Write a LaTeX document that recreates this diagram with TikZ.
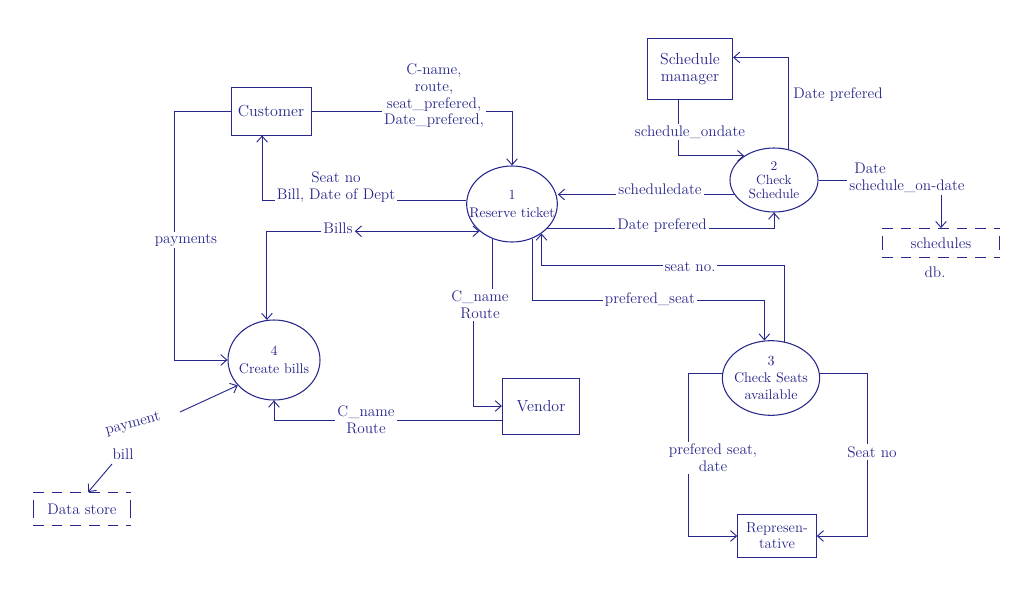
\documentclass[tikz,border=0pt]{standalone}
\usetikzlibrary{shapes.geometric,calc,arrows.meta}
\definecolor{ink}{RGB}{40,40,140}
\begin{document}
\begin{tikzpicture}[x=0.75pt,y=-0.75pt,
  >={Straight Barb[length=4.5pt,width=8pt]},
  every node/.style={text=ink},
  ent/.style={draw=ink, line width=0.7pt, align=center, inner sep=2pt, font=\fontsize{12}{13}\selectfont},
  proc/.style={ellipse, draw=ink, line width=0.8pt, inner sep=0pt},
  ptxt/.style={align=center, inner sep=0pt, font=\fontsize{10.5}{13}\selectfont},
  lab/.style={fill=white, align=center, inner sep=1.5pt, font=\fontsize{11.5}{12.5}\selectfont},
  flow/.style={draw=ink, line width=0.7pt, ->},
  dstxt/.style={inner sep=2pt, font=\fontsize{11.5}{12}\selectfont}
]
\useasboundingbox (0,0) rectangle (1024,604);
\fill[white] (0,0) rectangle (1024,604);

% external entities
\node[ent, minimum width=60pt, minimum height=36pt] (cust) at (271,111) {Customer};
\node[ent, minimum width=64pt, minimum height=46pt] (sm) at (690,69) {Schedule\\manager};
\node[ent, minimum width=58pt, minimum height=42pt] (ven) at (541,406) {Vendor};
\node[ent, minimum width=59pt, minimum height=32pt, font=\fontsize{11}{12}\selectfont] (rep) at (777,536) {Represen-\\tative};

% processes
\node[proc, minimum width=68pt, minimum height=57pt] (p1) at (512,204) {};
\node[ptxt] (p1t) at (p1.center) {1\\Reserve ticket};
\node[proc, minimum width=66pt, minimum height=48pt] (p2) at (774,180) {};
\node[ptxt, font=\fontsize{10}{10.5}\selectfont] (p2t) at (p2.center) {2\\Check\\Schedule};
\node[proc, minimum width=73pt, minimum height=56pt] (p3) at (771,378) {};
\node[ptxt, font=\fontsize{10.5}{12.5}\selectfont] (p3t) at (p3.center) {3\\Check Seats\\available};
\node[proc, minimum width=69pt, minimum height=60pt] (p4) at (274,360) {};
\node[ptxt] (p4t) at (p4.center) {4\\Create bills};

% data stores
\node[dstxt, minimum width=88pt, minimum height=22pt] (db) at (941,243) {schedules};
\node[dstxt] (dbl) at (935,272) {db.};
\node[dstxt, minimum width=73pt, minimum height=25pt] (ds) at (82,509) {Data store};
\foreach \s in {db,ds}{
  \draw[ink, line width=0.7pt, dash pattern=on 8pt off 6pt] (\s.north west) -- (\s.north east);
  \draw[ink, line width=0.7pt, dash pattern=on 8pt off 6pt] (\s.south west) -- (\s.south east);
  \draw[ink, line width=0.7pt] ($(\s.north west)+(0,8)$) -- ($(\s.south west)+(0,-8)$);
  \draw[ink, line width=0.7pt] ($(\s.north east)+(0,8)$) -- ($(\s.south east)+(0,-8)$);
}

% connectors
\draw[flow] (cust.east) -| (p1.north);
\draw[flow] (p1.175) -| (cust.250);
\draw[flow] (cust.west) -- ++(-56,0) |- (p4.west);
\node[lab] (lb) at (338,228) {Bills};
\draw[flow,<->] (p1.220) -- (p1.220 -| lb.east);
\draw[flow] (lb.west |- p1.220) -| (p4.100);
\draw[flow] (p1.240) -- ++(0,60) -- ++(-19,0) |- (ven.west);
\draw[flow] (p1.300) |- ($(p3.100)+(0,-40)$) -- (p3.100);
\draw[flow] (p3.70) -- ($(p3.70)+(0,-76)$) -| (p1.315);
\draw[flow] (p1.325) -| (p2.south);
\draw[flow] (p2.200) -- (p2.200 -| p1.east);
\draw[flow] (sm.250) |- (p2.141);
\draw[flow] (p2.65) |- (sm.15);
\draw[flow] (p2.east) -| (db.north);
\draw[flow] (p3.175) -- ++(-34,0) |- (rep.west);
\draw[flow] (p3.5) -- ++(48,0) |- (rep.east);
\draw[flow] (ven.200) -| (p4.south);
\coordinate (pbA) at (180,412);
\coordinate (pbB) at (112,464);
\draw[flow] (pbA) -- (p4.215);
\draw[flow] (pbB) -- (ds.70);

% labels
\node[lab] (l1) at (434,96) {C-name,\\route,\\seat\_prefered,\\Date\_prefered,};
\node[lab] (l2) at (336,187) {Seat no\\Bill, Date of Dept};
\node[lab] (l3) at (186,240) {payments};
\node[lab] (l4) at (480,305) {C\_name\\Route};
\node[lab] (l5) at (650,300) {prefered\_seat};
\node[lab] (l6) at (690,267) {seat no.};
\node[lab] (l7) at (662,226) {Date prefered};
\node[lab] (l8) at (660,189) {scheduledate};
\node[lab] (l9) at (690,132) {schedule\_ondate};
\node[lab] (l10) at (838,95) {Date prefered};
\node[lab, align=left] (l11) at (907,178) {\ Date\\schedule\_on-date};
\node[lab] (l12) at (713,458) {prefered seat,\\date};
\node[lab] (l13) at (872,452) {Seat no};
\node[lab] (l14) at (366,420) {C\_name\\Route};
\node[lab, rotate=15, fill=none] (l15) at (133,424) {payment};
\node[lab, fill=none] (l16) at (123,454) {bill};
\end{tikzpicture}
\end{document}
